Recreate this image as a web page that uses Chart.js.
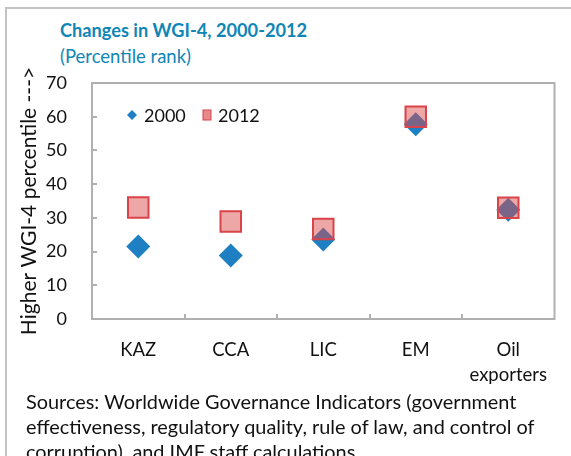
<!DOCTYPE html>
<html>
<head>
<meta charset="utf-8">
<script src="https://cdn.jsdelivr.net/npm/chart.js@4.4.0/dist/chart.umd.min.js"></script>
<style>
  html, body { margin:0; padding:0; background:#fff; }
  #wrap { position:relative; width:571px; height:456px; overflow:hidden; font-family:Lato, sans-serif; }
  #frame { position:absolute; left:5px; top:7px; right:-5px; bottom:-5px; border-top:2px solid #c4c4c4; border-left:2px solid #c4c4c4; }
  #title { position:absolute; left:60px; top:19px; font-size:18.2px; font-weight:bold; color:#0f86b6; white-space:nowrap; }
  #sub { position:absolute; left:60px; top:45px; font-size:18.5px; color:#0f86b6; white-space:nowrap; }
  #chartbox { position:absolute; left:0; top:0; width:571px; height:390px; }
  #src { position:absolute; left:26px; top:389px; font-size:19.9px; line-height:25px; color:#111; white-space:nowrap; }
</style>
</head>
<body>
<div id="wrap">
  <div id="frame"></div>
  <div id="title">Changes in WGI-4, 2000-2012</div>
  <div id="sub">(Percentile rank)</div>
  <div id="chartbox"><canvas id="chart-wgi"></canvas></div>
  <div id="src">Sources: Worldwide Governance Indicators (government<br>effectiveness, regulatory quality, rule of law, and control of<br>corruption), and IMF staff calculations.</div>
</div>
<script>
// ============ DADOS ============
var categorias = ['KAZ', 'CCA', 'LIC', 'EM', ['Oil', 'exporters']];
var serie2000 = [21.5, 18.8, 23.6, 57.8, 32.4];
var serie2012 = [33.1, 28.9, 26.7, 60.0, 33.0];
var nomesSeries = ['2000', '2012'];
var yTicks = [0, 10, 20, 30, 40, 50, 60, 70];

var azul = '#1e7fc2';
var vermelho = '#d9434a';
var rosa = 'rgba(218,76,76,0.49)';

// moldura do gráfico + marcas internas + legenda
var moldura = {
  id: 'moldura',
  afterDraw: function(chart) {
    var ctx = chart.ctx, a = chart.chartArea, sx = chart.scales.x, sy = chart.scales.y;
    ctx.save();
    ctx.strokeStyle = '#b0b0b0';
    ctx.lineWidth = 2;
    ctx.strokeRect(a.left, a.top, a.right - a.left, a.bottom - a.top);
    ctx.beginPath();
    yTicks.forEach(function(v) {
      var y = Math.round(sy.getPixelForValue(v));
      ctx.moveTo(a.left, y); ctx.lineTo(a.left + 5, y);
    });
    for (var i = 1; i < categorias.length; i++) {
      var x = Math.round((sx.getPixelForValue(i - 1) + sx.getPixelForValue(i)) / 2);
      ctx.moveTo(x, a.bottom); ctx.lineTo(x, a.bottom - 5);
    }
    ctx.stroke();

    // legenda
    var ly = a.top + 32;
    var lx = a.left + 40;
    ctx.fillStyle = azul;
    ctx.beginPath();
    ctx.moveTo(lx, ly - 5); ctx.lineTo(lx + 5, ly); ctx.lineTo(lx, ly + 5); ctx.lineTo(lx - 5, ly);
    ctx.closePath(); ctx.fill();
    ctx.font = '18px Lato';
    ctx.textBaseline = 'middle';
    ctx.fillStyle = '#111';
    ctx.fillText(nomesSeries[0], lx + 12, ly + 1);
    var sq = lx + 75;
    ctx.fillStyle = '#e68a8c';
    ctx.fillRect(sq - 4, ly - 5, 8, 10);
    ctx.strokeStyle = vermelho; ctx.lineWidth = 1;
    ctx.strokeRect(sq - 4, ly - 5, 8, 10);
    ctx.fillStyle = '#111';
    ctx.fillText(nomesSeries[1], sq + 11, ly + 1);
    ctx.restore();
  }
};

new Chart(document.getElementById('chart-wgi'), {
  type: 'line',
  data: {
    labels: categorias,
    datasets: [{
      label: nomesSeries[0],
      data: serie2000,
      showLine: false,
      pointStyle: 'rectRot',
      pointRadius: 12,
      pointBackgroundColor: azul,
      pointBorderColor: azul,
      pointBorderWidth: 0,
      order: 2
    }, {
      label: nomesSeries[1],
      data: serie2012,
      showLine: false,
      pointStyle: 'rect',
      pointRadius: 14.5,
      pointBackgroundColor: rosa,
      pointBorderColor: vermelho,
      pointBorderWidth: 2,
      order: 1
    }]
  },
  options: {
    responsive: true,
    maintainAspectRatio: false,
    animation: false,
    events: [],
    layout: { padding: { top: 83, right: 9, left: 0, bottom: 0 } },
    plugins: { legend: { display: false }, tooltip: { enabled: false } },
    scales: {
      x: {
        offset: true,
        grid: { display: false, offset: true },
        border: { display: false },
        ticks: { color: '#111', font: { family: 'Lato', size: 18.5, lineHeight: 1.35 }, padding: 11, maxRotation: 0 },
        afterFit: function(s) { s.height = 71; s.paddingLeft = 0; s.paddingRight = 0; }
      },
      y: {
        min: 0, max: 70,
        grid: { display: false },
        border: { display: false },
        ticks: { stepSize: 10, color: '#111', font: { family: 'Lato', size: 18 }, padding: 17 },
        title: { display: true, text: 'Higher WGI-4 percentile --->', color: '#111', font: { family: 'Lato', size: 21 }, padding: { top: 17 } },
        afterFit: function(s) { s.width = 92; s.paddingTop = 0; s.paddingBottom = 0; }
      }
    }
  },
  plugins: [moldura]
});
</script>
</body>
</html>
